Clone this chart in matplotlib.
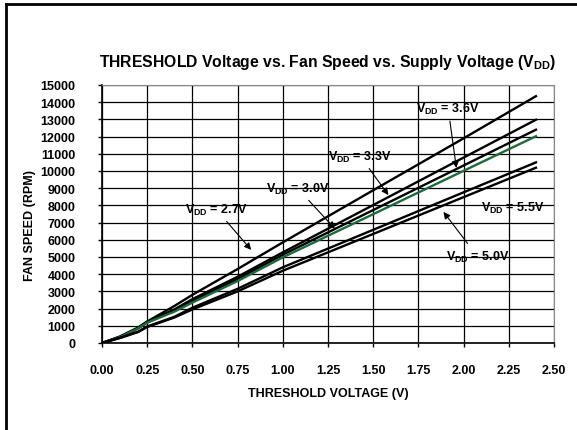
import matplotlib
matplotlib.use("Agg")
import matplotlib.pyplot as plt
from matplotlib.lines import Line2D

plt.rcParams['font.family'] = ['Liberation Sans', 'DejaVu Sans']
plt.rcParams['font.weight'] = 'bold'
plt.rcParams['mathtext.fontset'] = 'custom'
plt.rcParams['mathtext.bf'] = 'Liberation Sans:bold'
plt.rcParams['mathtext.rm'] = 'Liberation Sans:bold'

# threshold voltage (V)
threshold_v = [0.0, 0.1, 0.2, 0.25, 0.4, 0.5, 0.75, 1.0, 1.5, 2.0, 2.4]

# fan speed (RPM) per supply voltage
rpm_27 = [0, 380, 900, 1250, 2150, 2800, 4300, 5850, 8880, 11900, 14350]
rpm_33 = [0, 360, 880, 1230, 1950, 2550, 3850, 5270, 8020, 10780, 12980]
rpm_36 = [0, 350, 860, 1200, 1880, 2450, 3720, 5130, 7730, 10320, 12400]
rpm_30 = [0, 340, 850, 1180, 1820, 2350, 3600, 4980, 7490, 10010, 12020]
rpm_55 = [0, 300, 660, 960, 1520, 2050, 3150, 4400, 6580, 8760, 10500]
rpm_50 = [0, 290, 640, 930, 1480, 1950, 3000, 4200, 6340, 8480, 10190]

x_ticks = [0.0, 0.25, 0.5, 0.75, 1.0, 1.25, 1.5, 1.75, 2.0, 2.25, 2.5]
y_ticks = list(range(0, 15001, 1000))

fig = plt.figure(figsize=(5.77, 4.31), dpi=100)
ax = fig.add_axes([0.1768, 0.2019, 0.7834, 0.5986])

series = [
    (rpm_27, 'black'),
    (rpm_33, 'black'),
    (rpm_36, 'black'),
    (rpm_30, '#1a6b3a'),
    (rpm_55, 'black'),
    (rpm_50, 'black'),
]
for vals, col in series:
    ax.plot(threshold_v, vals, color=col, linewidth=1.7, zorder=3)

ax.set_xlim(0, 2.5)
ax.set_ylim(0, 15000)
ax.set_xticks(x_ticks)
ax.set_xticklabels([f'{t:.2f}' for t in x_ticks])
ax.set_yticks(y_ticks)
ax.grid(True, color='black', linewidth=0.9)
ax.set_axisbelow(True)
ax.tick_params(axis='x', length=3, width=1, pad=12, labelsize=9)
ax.tick_params(axis='y', length=3, width=1, pad=16, labelsize=9)
ax.spines['left'].set_linewidth(1.2)
ax.spines['bottom'].set_linewidth(1.2)
ax.spines['top'].set_color('#888888')
ax.spines['right'].set_color('#888888')

ax.set_xlabel('THRESHOLD VOLTAGE (V)', fontsize=9, fontweight='bold', labelpad=8)
ax.set_ylabel('FAN SPEED (RPM)', fontsize=9, fontweight='bold')
ax.yaxis.set_label_coords(-0.145, 0.46)
ax.set_title(r'THRESHOLD Voltage vs. Fan Speed vs. Supply Voltage (V$_{\mathbf{DD}}$)',
             fontsize=11.3, fontweight='bold', pad=14)

arrow = dict(arrowstyle='-|>', color='black', linewidth=0.8, mutation_scale=10)
txt = dict(fontsize=9, fontweight='bold', ha='center', va='center')
ax.annotate(r'V$_{\mathbf{DD}}$ = 2.7V', xy=(0.835, 5290), xytext=(0.63, 7790),
            arrowprops=arrow, **txt)
ax.annotate(r'V$_{\mathbf{DD}}$ = 3.0V', xy=(1.298, 6529), xytext=(1.08, 9012),
            arrowprops=arrow, **txt)
ax.annotate(r'V$_{\mathbf{DD}}$ = 3.3V', xy=(1.593, 8471), xytext=(1.427, 10872),
            arrowprops=arrow, **txt)
ax.annotate(r'V$_{\mathbf{DD}}$ = 3.6V', xy=(1.962, 10017), xytext=(1.914, 13663),
            arrowprops=arrow, **txt)
ax.annotate(r'V$_{\mathbf{DD}}$ = 5.0V', xy=(1.879, 7751), xytext=(2.075, 5058),
            arrowprops=arrow, **txt)
ax.text(2.27, 7907, r'V$_{\mathbf{DD}}$ = 5.5V', **txt)

# page frame (top and left edges)
fig.add_artist(Line2D([5.5 / 577, 1.0], [1 - 4.5 / 431, 1 - 4.5 / 431],
                      transform=fig.transFigure, color='black', linewidth=2))
fig.add_artist(Line2D([5.5 / 577, 5.5 / 577], [0.0, 1 - 4.5 / 431],
                      transform=fig.transFigure, color='black', linewidth=2))

fig.savefig('out.png', dpi=100)
